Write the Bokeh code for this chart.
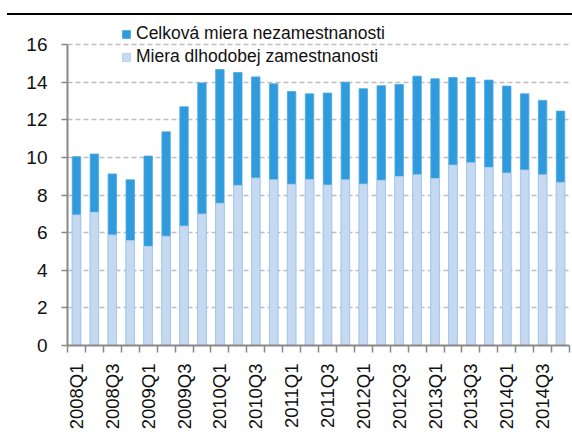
import numpy as np
from bokeh.plotting import figure
from bokeh.models import FixedTicker, Legend, LegendItem, ColumnDataSource, Div
from bokeh.layouts import column
from bokeh.embed import file_html
from bokeh.resources import INLINE

quarters = [f"{y}Q{q}" for y in range(2008, 2015) for q in range(1, 5)]
total_unemp = [10.04, 10.18, 9.12, 8.81, 10.07, 11.36, 12.69, 13.96,
               14.67, 14.51, 14.28, 13.91, 13.50, 13.38, 13.42, 14.00,
               13.65, 13.81, 13.88, 14.32, 14.18, 14.25, 14.25, 14.11,
               13.79, 13.38, 13.03, 12.46]
longterm_unemp = [6.94, 7.08, 5.88, 5.58, 5.27, 5.81, 6.35, 6.99,
                  7.56, 8.51, 8.90, 8.81, 8.57, 8.83, 8.53, 8.81,
                  8.58, 8.78, 8.99, 9.08, 8.88, 9.59, 9.72, 9.47,
                  9.17, 9.33, 9.08, 8.67]
y_ticks = [0, 2, 4, 6, 8, 10, 12, 14, 16]
label_total = "Celková miera nezamestnanosti"
label_long = "Miera dlhodobej zamestnanosti"

FONT = "Liberation Sans"
DARK = "#2F9BDD"
LIGHT = "#C6D9F1"
AXIS_GREY = "#888888"

# thin black rule across the top
rule = Div(text="", width=565, height=2, margin=(13, 0, 1, 7),
           styles={"background-color": "black"})

x = list(range(len(quarters)))
src = ColumnDataSource(dict(x=x, total=total_unemp, longterm=longterm_unemp, q=quarters))

p = figure(width=572, height=420, output_backend="svg", toolbar_location=None,
           x_range=(-0.5, len(quarters) - 0.5), y_range=(0, 17.49),
           min_border_left=67, min_border_right=3, min_border_top=0, min_border_bottom=91)
p.outline_line_color = None
p.background_fill_color = "white"
p.border_fill_color = "white"

r_total = p.vbar(x="x", top="total", bottom=0, width=0.47, source=src,
                 fill_color=DARK, line_color="#4AA8E2", line_width=0.8)
r_long = p.vbar(x="x", top="longterm", bottom=0, width=0.47, source=src,
                fill_color=LIGHT, line_color="#AFCDEE", line_width=0.8)

# x axis
label_idx = [i for i, q in enumerate(quarters) if q.endswith("Q1") or q.endswith("Q3")]
p.xaxis.ticker = FixedTicker(ticks=label_idx,
                             minor_ticks=[i - 0.5 for i in range(len(quarters) + 1)])
p.xaxis.major_label_overrides = {i: quarters[i] for i in label_idx}
p.xaxis.major_label_orientation = np.pi / 2
p.xaxis.major_tick_out = 0
p.xaxis.major_tick_in = 0
p.xaxis.minor_tick_out = 7
p.xaxis.minor_tick_in = 0
p.xaxis.minor_tick_line_color = AXIS_GREY
p.xaxis.minor_tick_line_width = 1.5
p.xaxis.axis_line_color = AXIS_GREY
p.xaxis.axis_line_width = 2
p.xaxis.major_label_standoff = 11
p.xaxis.major_label_text_font = FONT
p.xaxis.major_label_text_font_size = "18.5px"
p.xaxis.major_label_text_color = "#111111"

# y axis
p.yaxis.ticker = FixedTicker(ticks=y_ticks, minor_ticks=[])
p.yaxis.bounds = (0, 16)
p.yaxis.major_tick_out = 6
p.yaxis.major_tick_in = 0
p.yaxis.major_tick_line_color = AXIS_GREY
p.yaxis.major_tick_line_width = 1.5
p.yaxis.axis_line_color = AXIS_GREY
p.yaxis.axis_line_width = 2
p.yaxis.major_label_standoff = 14
p.yaxis.major_label_text_font = FONT
p.yaxis.major_label_text_font_size = "19px"
p.yaxis.major_label_text_color = "#111111"

p.xgrid.grid_line_color = None
p.ygrid.ticker = FixedTicker(ticks=y_ticks[1:])
p.ygrid.grid_line_color = "#BEBEBE"
p.ygrid.grid_line_dash = "5 3"
p.ygrid.grid_line_width = 1.5

legend = Legend(items=[LegendItem(label=label_total, renderers=[r_total]),
                       LegendItem(label=label_long, renderers=[r_long])],
                location=(54, 278), orientation="vertical")
legend.background_fill_alpha = 0
legend.border_line_color = None
legend.padding = 2
legend.margin = 0
legend.spacing = 2
legend.glyph_width = 10
legend.glyph_height = 10
legend.label_standoff = 5
legend.label_text_font = FONT
legend.label_text_font_size = "17.5px"
legend.label_text_color = "#111111"
legend.label_height = 21
p.add_layout(legend, "center")

layout = column(rule, p)
open("out.html", "w").write(file_html(layout, INLINE))
